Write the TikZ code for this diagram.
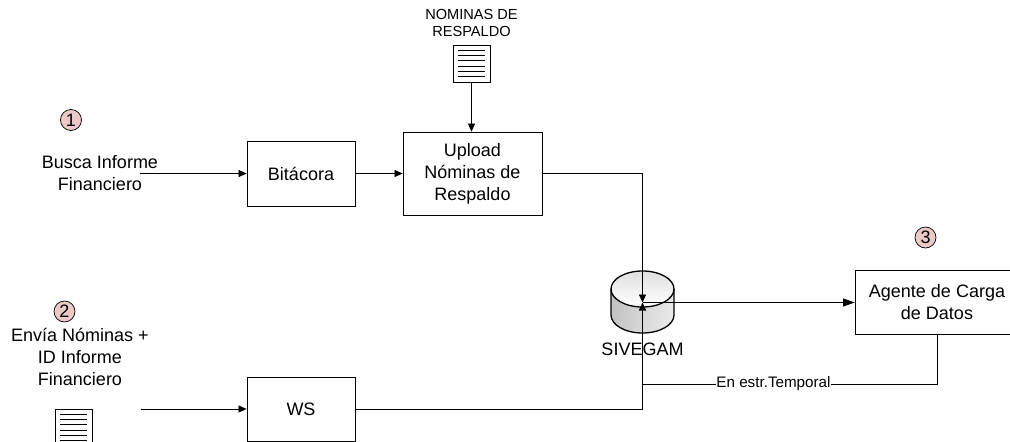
\documentclass[tikz,border=0pt]{standalone}
\usepackage{fontspec}
\setmainfont{Liberation Sans}
\usetikzlibrary{arrows.meta}
\definecolor{badge}{HTML}{EAC9C7}
\tikzset{
 x=1pt,y=-1pt,
 proc/.style={draw=black,line width=0.8pt,fill=white,align=center,inner sep=0pt,font=\fontsize{18}{22}\selectfont},
 lbl/.style={align=center,inner sep=0pt,font=\fontsize{18}{22}\selectfont},
 badgec/.style={circle,draw=black,line width=0.7pt,fill=badge,minimum size=21pt,inner sep=0pt,font=\fontsize{18}{18}\selectfont},
 flow/.style={draw=black,line width=0.7pt,-{Triangle[length=8pt,width=7pt]}},
 flowbig/.style={draw=black,line width=0.7pt,-{Triangle[length=11.5pt,width=8pt]}},
 plain/.style={draw=black,line width=0.7pt},
 doc/.style={draw=black,line width=0.8pt,fill=white},
 docline/.style={draw=black,line width=0.7pt},
}
\newcommand{\docicon}[2]{%
 \draw[doc] (#1,#2) rectangle ++(37,37);
 \foreach \d in {5,10.3,15.6,20.9,26.2,31.5}{\draw[docline] (#1+5,#2+\d) -- ++(26.5,0);}
}
\begin{document}
\begin{tikzpicture}
\useasboundingbox (0,0) rectangle (1010,442);
\clip (0,0) rectangle (1010,442);

% Process boxes
\node[proc,minimum width=108pt,minimum height=65pt] (bit) at (301,173.5) {Bitácora};
\node[proc,minimum width=139pt,minimum height=83pt] (upl) at (472.5,173.5) {Upload\\Nóminas de\\Respaldo};
\node[proc,minimum width=108pt,minimum height=64pt] (ws) at (301,409) {WS};
\node[proc,minimum width=164pt,minimum height=64pt] (agt) at (937,302) {Agente de Carga\\de Datos};

% Documents
\docicon{453}{45}
\docicon{55}{409}
\coordinate (docA) at (471.5,82);
\node[lbl,font=\fontsize{14.6}{17.7}\selectfont] (nomlbl) at (471.5,23) {NOMINAS DE\\RESPALDO};

% Labels and badges
\node[lbl] (busca) at (100,173) {Busca Informe\\Financiero};
\node[lbl] (envia) at (80,357) {Envía Nóminas +\\ID Informe\\Financiero};
\node[badgec] (b1) at (71,120) {1};
\node[badgec] (b2) at (64.5,311.5) {2};
\node[badgec] (b3) at (925.5,237.5) {3};

% Database
\shade[top color=gray!30,bottom color=gray!10]
  (611,289) -- (611,315) arc[start angle=180,end angle=360,x radius=31.5,y radius=-18] -- (674,289) -- cycle;
\shade[left color=gray!55,right color=gray!15,opacity=0.8]
  (611,289) -- (611,315) arc[start angle=180,end angle=360,x radius=31.5,y radius=-18] -- (674,289) -- cycle;
\shade[top color=gray!25,bottom color=white]
  (642.5,289) ellipse[x radius=31.5,y radius=18];
\draw[black,line width=1.3pt] (611,289) -- (611,315) arc[start angle=180,end angle=360,x radius=31.5,y radius=-18] -- (674,289);
\draw[black,line width=1.3pt] (642.5,289) ellipse[x radius=31.5,y radius=18];
\coordinate (db) at (642.5,302.5);
\node[lbl] (siv) at (642.5,349) {SIVEGAM};

% Free ends
\coordinate (inA) at (140,173.5);
\coordinate (inB) at (141,409);

% Connectors
\draw[flow] (inA) -- (bit.west);
\draw[flow] (inB) -- (ws.west);
\draw[flow] (bit.east) -- (upl.west);
\draw[flow] (docA) -- (docA |- upl.north);
\draw[flow] (upl.east) -| (db);
\draw[flow] (ws.east) -| (db);
\draw[flowbig] (db) -- (db -| agt.west);
\node[inner sep=0.5pt,fill=white,font=\fontsize{15.2}{17}\selectfont] (tmp) at (773.5,384) {En estr.Temporal};
\draw[plain] (agt.south) |- (tmp.east);
\draw[plain] (tmp.west) -- (642.5,384);
\end{tikzpicture}
\end{document}
